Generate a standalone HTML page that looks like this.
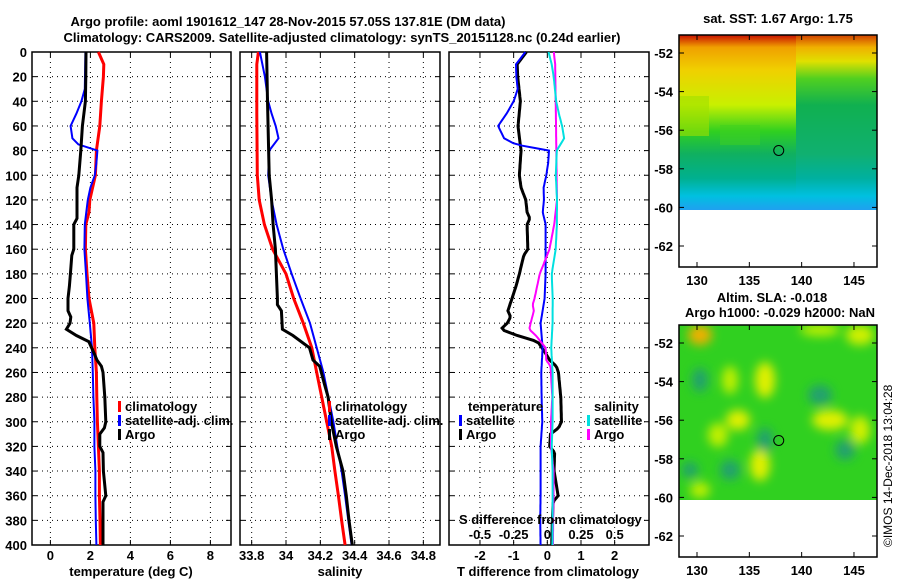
<!DOCTYPE html>
<html><head><meta charset="utf-8">
<style>
html,body{margin:0;padding:0;background:#fff;}
svg{display:block;font-family:"Liberation Sans",sans-serif;}
.b{font-weight:bold;font-size:13px;}
</style></head>
<body>
<svg id="chart" width="900" height="580" viewBox="0 0 900 580" xmlns="http://www.w3.org/2000/svg">
<defs>
<linearGradient id="sstL" x1="0" y1="0" x2="0" y2="1">
<stop offset="0" stop-color="#c81000"/><stop offset="0.07" stop-color="#f0a000"/><stop offset="0.2" stop-color="#f0d000"/><stop offset="0.4" stop-color="#c8f000"/><stop offset="0.55" stop-color="#30d020"/><stop offset="0.68" stop-color="#10b060"/><stop offset="0.82" stop-color="#00b090"/><stop offset="0.92" stop-color="#00c0e0"/><stop offset="1" stop-color="#20a0f0"/>
</linearGradient>
<linearGradient id="sstR" x1="0" y1="0" x2="0" y2="1">
<stop offset="0" stop-color="#d04000"/><stop offset="0.07" stop-color="#f0b000"/><stop offset="0.15" stop-color="#e0e000"/><stop offset="0.25" stop-color="#50d020"/><stop offset="0.4" stop-color="#10b050"/><stop offset="0.68" stop-color="#10b070"/><stop offset="0.82" stop-color="#00b0a0"/><stop offset="0.92" stop-color="#00c0e0"/><stop offset="1" stop-color="#20a0f0"/>
</linearGradient>
<filter id="blur" x="-20%" y="-20%" width="140%" height="140%"><feGaussianBlur stdDeviation="5"/></filter>
<clipPath id="clipBot"><rect x="679" y="325" width="198" height="175"/></clipPath>
</defs>
<g id="plots"></g>
</svg>
<script>
// ---- data ----
const tClimDepth=[0,10,20,40,60,80,100,120,130,140,160,180,200,220,240,260,280,300,320,340,360,380,400];
const tClim=[2.4,2.67,2.65,2.55,2.47,2.3,2.25,1.97,1.93,1.77,1.75,1.83,1.93,2.17,2.22,2.3,2.32,2.35,2.4,2.45,2.45,2.48,2.5];
const tSatDepth=[0,20,30,40,50,60,70,75,80,90,100,110,120,140,160,180,200,220,240,260,280,300,320,340,360,380,400];
const tSat=[1.75,1.73,1.72,1.55,1.3,1.01,1.1,1.4,2.35,2.3,2.22,2.0,1.87,1.72,1.7,1.78,1.85,1.97,2.08,2.12,2.15,2.2,2.2,2.25,2.25,2.27,2.3];
const tArgoDepth=[0,20,40,60,80,100,110,120,135,140,160,165,180,190,200,210,215,220,225,230,235,245,250,255,260,280,300,305,310,320,325,340,360,365,380,400];
const tArgo=[1.78,1.77,1.75,1.6,1.52,1.42,1.33,1.33,1.33,1.17,1.17,1.07,1.0,0.95,0.88,0.88,1.02,0.98,0.8,1.3,1.92,2.2,2.33,2.55,2.63,2.72,2.77,2.7,2.47,2.47,2.63,2.65,2.77,2.63,2.63,2.63];
const sClimDepth=[0,10,50,100,120,140,160,180,200,220,240,260,280,300,320,340,360,380,400];
const sClim=[33.839,33.83,33.83,33.833,33.844,33.874,33.922,34.0,34.045,34.101,34.15,34.179,34.208,34.237,34.266,34.285,34.305,34.324,34.344];
const sSatDepth=[0,20,40,50,60,70,80,100,120,140,160,180,200,220,240,260,280,300,320,340,360,380,400];
const sSat=[33.848,33.877,33.896,33.916,33.94,33.956,33.902,33.896,33.916,33.945,33.984,34.033,34.085,34.14,34.179,34.218,34.247,34.276,34.299,34.324,34.344,34.363,34.382];
const sArgoDepth=[0,40,100,120,140,160,180,200,205,210,225,230,240,250,255,270,280,300,320,340,360,380,400];
const sArgo=[33.887,33.892,33.902,33.916,33.925,33.938,33.944,33.95,33.95,33.973,33.979,34.04,34.137,34.157,34.196,34.225,34.245,34.264,34.293,34.332,34.351,34.367,34.386];
const depthTicks=[0,20,40,60,80,100,120,140,160,180,200,220,240,260,280,300,320,340,360,380,400];
const tTicks=[0,2,4,6,8];
const sTicks=[33.8,34,34.2,34.4,34.6,34.8];
const dTicks=[-2,-1,0,1,2];
const sdTicks=[-0.5,-0.25,0,0.25,0.5];
const lonTicks=[130,135,140,145];
const latTicks=[-52,-54,-56,-58,-60,-62];

const NS="http://www.w3.org/2000/svg";
const root=document.getElementById('plots');
function el(tag,attrs,parent){const e=document.createElementNS(NS,tag);for(const k in attrs)e.setAttribute(k,attrs[k]);(parent||root).appendChild(e);return e;}
function txt(x,y,s,anchor,cls,parent){const t=el('text',{x:x,y:y,'text-anchor':anchor||'middle','class':cls||'b',fill:'#000'},parent);t.textContent=s;return t;}
function interp(ds,vs,d){for(let i=0;i<ds.length-1;i++){if(d>=ds[i]&&d<=ds[i+1]){const f=(d-ds[i])/(ds[i+1]-ds[i]||1);return vs[i]+f*(vs[i+1]-vs[i]);}}return vs[vs.length-1];}

const Y0=52,Y1=545;
const yD=d=>Y0+(d/400)*(Y1-Y0);
function mkX(x0,x1,v0,v1){return v=>x0+(v-v0)/(v1-v0)*(x1-x0);}

const panels=[
 {x0:32,x1:231,v0:-0.92,v1:9.03,name:'temperature-panel'},
 {x0:240,x1:440,v0:33.732,v1:34.897,name:'salinity-panel'},
 {x0:449,x1:649,v0:-2.92,v1:3.02,name:'difference-panel'}];
panels.forEach(p=>p.fx=mkX(p.x0,p.x1,p.v0,p.v1));

function frame(p,ticks,labels,showY){
  const g=el('g',{});
  
  
  ticks.forEach((v,i)=>{const x=p.fx(v);
    el('line',{x1:x,x2:x,y1:Y0,y2:Y1,stroke:'#000','stroke-width':1,'stroke-dasharray':'1,4'},g);
    el('line',{x1:x,x2:x,y1:Y1,y2:Y1-5,stroke:'#000'},g);el('line',{x1:x,x2:x,y1:Y0,y2:Y0+5,stroke:'#000'},g);
    if(labels){const t=txt(x,560,labels[i],'middle','b',g);
      
      }
  });
  depthTicks.forEach(d=>{const y=yD(d);
    if(d>0&&d<400)el('line',{x1:p.x0,x2:p.x1,y1:y,y2:y,stroke:'#000','stroke-width':1,'stroke-dasharray':'1,4'},g);
    el('line',{x1:p.x0,x2:p.x0+5,y1:y,y2:y,stroke:'#000'},g);el('line',{x1:p.x1-5,x2:p.x1,y1:y,y2:y,stroke:'#000'},g);
    if(showY){const t=txt(27,y+5,String(d),'end','b',g);
      
      }
  });
  el('rect',{x:p.x0,y:Y0,width:p.x1-p.x0,height:Y1-Y0,fill:'none',stroke:'#000','stroke-width':1.5},g);
  return g;
}
function line(p,ds,vs,color,w,name){
  const pts=ds.map((d,i)=>p.fx(vs[i]).toFixed(1)+','+yD(d).toFixed(1)).join(' ');
  const l=el('polyline',{points:pts,fill:'none',stroke:color,'stroke-width':w,'stroke-linejoin':'miter'});
  
  
}
frame(panels[0],tTicks,tTicks.map(String),true);
frame(panels[1],sTicks,sTicks.map(String),false);
frame(panels[2],dTicks,dTicks.map(String),false);

line(panels[0],tClimDepth,tClim,'#ff0000',3,'temperature-climatology-line');
line(panels[0],tSatDepth,tSat,'#0000ff',2,'temperature-satellite-line');
line(panels[0],tArgoDepth,tArgo,'#000',3,'temperature-argo-line');
line(panels[1],sClimDepth,sClim,'#ff0000',3,'salinity-climatology-line');
line(panels[1],sSatDepth,sSat,'#0000ff',2,'salinity-satellite-line');
line(panels[1],sArgoDepth,sArgo,'#000',3,'salinity-argo-line');

// differences
const grid=[];for(let d=0;d<=400;d+=2)grid.push(d);
const dTS=grid.map(d=>interp(tSatDepth,tSat,d)-interp(tClimDepth,tClim,d));
const dTA=grid.map(d=>interp(tArgoDepth,tArgo,d)-interp(tClimDepth,tClim,d));
const dSS=grid.map(d=>4*(interp(sSatDepth,sSat,d)-interp(sClimDepth,sClim,d)));
const dSA=grid.map(d=>4*(interp(sArgoDepth,sArgo,d)-interp(sClimDepth,sClim,d)));
line(panels[2],grid,dTA,'#000',3,'t-diff-argo-line');
line(panels[2],grid,dTS,'#0000ff',2,'t-diff-satellite-line');
line(panels[2],grid,dSA,'#ff00ff',2,'s-diff-argo-line');
line(panels[2],grid,dSS,'#00e0e0',2,'s-diff-satellite-line');

// legends
function leg(x,y,color,label,name){const g=el('g',{});
  
  
  el('rect',{x:x,y:y-10,width:3,height:11,fill:color},g);txt(x+7,y,label,'start','b',g);}
leg(118,411,'#ff0000','climatology','legend-climatology');
leg(118,425,'#0000ff','satellite-adj. clim.','legend-satellite-adj');
leg(118,439,'#000','Argo','legend-argo');
leg(328,411,'#ff0000','climatology','legend-climatology-s');
leg(328,425,'#0000ff','satellite-adj. clim.','legend-satellite-adj-s');
leg(328,439,'#000','Argo','legend-argo-s');
txt(468,411,'temperature','start');
leg(459,425,'#0000ff','satellite','legend-t-satellite');
leg(459,439,'#000','Argo','legend-t-argo');
txt(594,411,'salinity','start');
leg(587,425,'#00e0e0','satellite','legend-s-satellite');
leg(587,439,'#ff00ff','Argo','legend-s-argo');
txt(459,524,'S difference from climatology','start');
sdTicks.forEach(v=>{const t=txt(panels[2].fx(v*4),539,String(v),'middle');
  
  });

// axis titles
txt(131,576,'temperature (deg C)');
txt(340,576,'salinity');
txt(548,576,'T difference from climatology');
const t1=txt(288,26,'Argo profile: aoml 1901612_147 28-Nov-2015 57.05S 137.81E (DM data)');
t1.setAttribute('font-size','14');
const t2=txt(342,42,'Climatology: CARS2009. Satellite-adjusted climatology: synTS_20151128.nc (0.24d earlier)');
t2.setAttribute('font-size','14');

// maps
const lonF=mkX(679,877,128.28,147.2);
function mapFrame(top,title){
  const latF=v=>top+18+(-52-v)*19.3;
  const g=el('g',{});
  
  
  lonTicks.forEach(v=>{const x=lonF(v);el('line',{x1:x,x2:x,y1:top,y2:top+5,stroke:'#000'},g);el('line',{x1:x,x2:x,y1:top+232,y2:top+227,stroke:'#000'},g);txt(x,top+250,String(v),'middle','b',g);});
  latTicks.forEach(v=>{const y=latF(v);el('line',{x1:679,x2:684,y1:y,y2:y,stroke:'#000'},g);el('line',{x1:877,x2:872,y1:y,y2:y,stroke:'#000'},g);txt(673,y+5,String(v),'end','b',g);});
  el('rect',{x:679,y:top,width:198,height:232,fill:'none',stroke:'#000','stroke-width':1.5},g);
  el('circle',{cx:lonF(137.81),cy:latF(-57.05),r:5,fill:'none',stroke:'#000','stroke-width':1},g);
}
// SST map
const sst=el('g',{});


el('rect',{x:679,y:35,width:117,height:175,fill:'url(#sstL)'},sst);
el('rect',{x:796,y:35,width:81,height:175,fill:'url(#sstR)'},sst);
el('rect',{x:679,y:96,width:30,height:40,fill:'#a0e000',opacity:0.6},sst);
el('rect',{x:720,y:125,width:40,height:20,fill:'#40d020',opacity:0.5},sst);
mapFrame(35);
txt(778,23,'sat. SST: 1.67 Argo: 1.75');
// SLA map
const sla=el('g',{'clip-path':'url(#clipBot)'});


el('rect',{x:679,y:325,width:198,height:175,fill:'#30d020'},sla);
const blobs=el('g',{filter:'url(#blur)'},sla);
[[700,335,12,10,'#f0b000'],[730,380,8,14,'#c0f000'],[765,380,10,18,'#e0f000'],[738,420,12,10,'#e0f000'],[718,435,10,12,'#c0f000'],[760,465,10,16,'#e0f000'],[830,420,18,10,'#e0f000'],[860,430,10,14,'#d0f000'],[860,335,14,10,'#d0f000'],[820,330,20,6,'#c0f000'],[700,490,10,8,'#c0f000'],
 [700,380,8,12,'#20a070'],[765,440,8,12,'#20a070'],[820,395,12,10,'#20a070'],[845,450,10,10,'#20a070'],[730,470,10,10,'#20a070'],[690,470,8,8,'#20a070']].forEach(b=>{
  el('ellipse',{cx:b[0],cy:b[1],rx:b[2],ry:b[3],fill:b[4]},blobs);});
mapFrame(325);
txt(772,302,'Altim. SLA: -0.018');
txt(780,317,'Argo h1000: -0.029 h2000: NaN');
const cp=el('text',{x:0,y:0,transform:'translate(892,547) rotate(-90)','font-size':'12',fill:'#000'});
cp.textContent='©IMOS 14-Dec-2018 13:04:28';


</script>
</body></html>
